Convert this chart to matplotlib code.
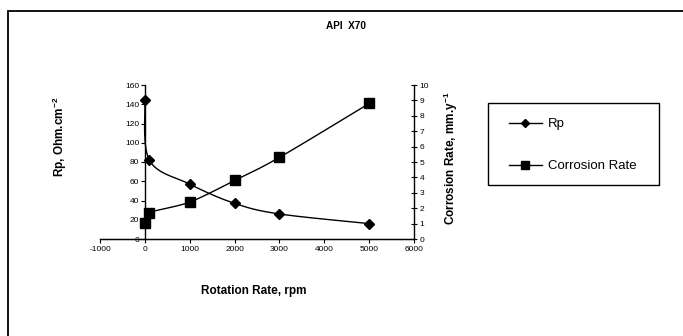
import numpy as np
import matplotlib
matplotlib.use("Agg")
import matplotlib.pyplot as plt
from matplotlib.patches import Rectangle
from matplotlib.lines import Line2D

plt.rcParams['font.family'] = ['Liberation Sans', 'DejaVu Sans']
plt.rcParams['axes.unicode_minus'] = False
plt.rcParams['mathtext.default'] = 'regular'

rpm = [0, 100, 1000, 2000, 3000, 5000]
rp = [144, 82, 57, 37, 26, 16]
corrosion = [1.05, 1.7, 2.4, 3.8, 5.3, 8.8]
x_ticks = [-1000, 0, 1000, 2000, 3000, 4000, 5000, 6000]
y_left_ticks = [0, 20, 40, 60, 80, 100, 120, 140, 160]
y_right_ticks = list(range(0, 11))

W, H = 683, 336
fig = plt.figure(figsize=(W / 100, H / 100), dpi=100)

ax_l, ax_r, ax_t, ax_b = 100, 414, 85, 239
ax = fig.add_axes([ax_l / W, 1 - ax_b / H, (ax_r - ax_l) / W, (ax_b - ax_t) / H])
ax2 = ax.twinx()

XMIN, XMAX = -1000, 6000


def smooth(xs, ys, ymax, n=30):
    # Excel-like Bezier smoothing done in pixel space
    pw, ph = ax_r - ax_l, ax_b - ax_t
    P = np.array([[(x - XMIN) / (XMAX - XMIN) * pw, y / ymax * ph] for x, y in zip(xs, ys)])
    out = []
    for i in range(len(P) - 1):
        p0 = P[i - 1] if i > 0 else P[i]
        p1, p2 = P[i], P[i + 1]
        p3 = P[i + 2] if i + 2 < len(P) else P[i + 1]
        c1 = p1 + (p2 - p0) / 6
        c2 = p2 - (p3 - p1) / 6
        t = np.linspace(0, 1, n)[:, None]
        seg = (1 - t) ** 3 * p1 + 3 * (1 - t) ** 2 * t * c1 + 3 * (1 - t) * t ** 2 * c2 + t ** 3 * p2
        out.append(seg if i == 0 else seg[1:])
    S = np.vstack(out)
    return S[:, 0] / pw * (XMAX - XMIN) + XMIN, S[:, 1] / ph * ymax


sx, sy = smooth(rpm, rp, 160)
ax.plot(sx, sy, color='black', lw=1.0, zorder=3)
ax.plot(rpm, rp, ls='none', marker='D', ms=5, color='black', zorder=4)

cx, cy = smooth(rpm, corrosion, 10)
ax2.plot(cx, cy, color='black', lw=1.0, zorder=3)
ax2.plot(rpm, corrosion, ls='none', marker='s', ms=6.5, color='black', zorder=4)

ax.set_xlim(XMIN, XMAX)
ax.set_ylim(0, 160)
ax2.set_ylim(0, 10)
ax.set_xticks(x_ticks)
ax.set_yticks(y_left_ticks)
ax2.set_yticks(y_right_ticks)

for a in (ax, ax2):
    a.spines['top'].set_visible(False)
    a.patch.set_visible(False)
ax.spines['right'].set_visible(False)
ax.spines['left'].set_position(('data', 0))
ax2.spines['left'].set_visible(False)
for s in ('left', 'bottom'):
    ax.spines[s].set_linewidth(1.0)
ax2.spines['right'].set_linewidth(1.0)

ax.tick_params(axis='x', direction='out', length=3, width=0.8, labelsize=6, pad=2, colors='black')
ax.tick_params(axis='y', direction='out', length=3, width=0.8, labelsize=6, pad=1)
ax2.tick_params(axis='y', direction='inout', length=4, width=0.8, labelsize=6, pad=2)

fig.text(346 / W, 1 - 26 / H, 'API  X70', ha='center', va='center', fontsize=7.2, fontweight='bold')
fig.text(254 / W, 1 - 291 / H, 'Rotation Rate, rpm', ha='center', va='center', fontsize=8.5, fontweight='bold')
fig.text(60 / W, 1 - 137 / H, 'Rp, Ohm.cm$^{-2}$', ha='center', va='center', rotation=90,
         fontsize=8.5, fontweight='bold')
fig.text(451 / W, 1 - 158 / H, 'Corrosion Rate, mm.y$^{-1}$', ha='center', va='center', rotation=90,
         fontsize=8.5, fontweight='bold')

# legend frame
fig.patches.append(Rectangle((488 / W, 1 - 185 / H), 171 / W, 82 / H, transform=fig.transFigure,
                             fill=False, edgecolor='black', lw=1.0))
handles = [Line2D([], [], color='black', lw=1, marker='D', ms=4),
           Line2D([], [], color='black', lw=1, marker='s', ms=5.5)]
leg = fig.legend(handles, ['Rp', 'Corrosion Rate'],
                 bbox_to_anchor=(509 / W, 1 - 118 / H), loc='upper left',
                 borderaxespad=0, borderpad=0, fontsize=9.5, frameon=False,
                 labelspacing=2.25, handlelength=2.5, handletextpad=0.45)

fig.patches.append(Rectangle((8 / W, -0.1), 1.2, 1 - 11 / H + 0.1, transform=fig.transFigure,
                             fill=False, edgecolor='black', lw=1.3))

fig.savefig('out.png', dpi=100)
